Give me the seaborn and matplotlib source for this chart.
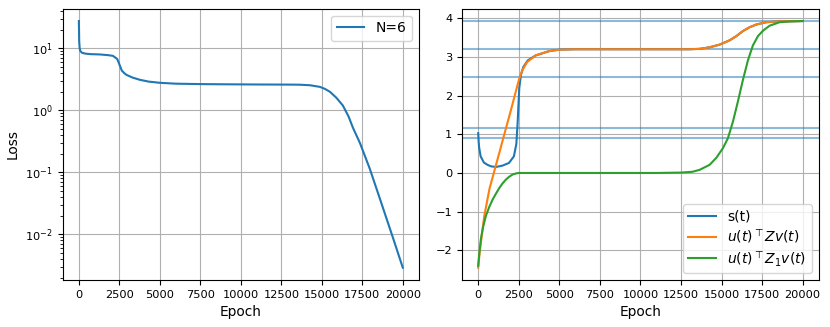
"""Training loss and alignment quantities for the N=6 run."""

import matplotlib

matplotlib.use("Agg")

import matplotlib.pyplot as plt
import seaborn as sns


# ---- loss curve (left panel) ----
LOSS_EPOCH = [
    0, 20, 50, 100, 200, 400, 700, 1300, 1800, 2100, 2360, 2450, 2530, 2650,
    2800, 2940, 3300, 3765, 4300, 5000, 6000, 7470, 9000, 11170, 13000, 13640,
    14260, 14880, 15200, 15500, 15900, 16300, 16650, 16930, 17350, 17960,
    18580, 19400, 20000,
]
LOSS = [
    27.7, 13.0, 10.0, 9.0, 8.5, 8.25, 8.1, 8.0, 7.8, 7.6, 6.8, 6.0, 5.3, 4.4,
    4.0, 3.75, 3.4, 3.12, 2.92, 2.79, 2.7, 2.66, 2.64, 2.62, 2.61, 2.6,
    2.55, 2.4, 2.22, 2.0, 1.6, 1.2, 0.8, 0.52, 0.3, 0.115,
    0.038, 0.0087, 0.0029,
]
LOSS_LABEL = "N=6"

# ---- right panel ----
S_EPOCH = [
    0, 30, 60, 150, 350, 575, 800, 1100, 1500, 1900, 2200, 2350, 2430, 2530,
    2630, 2780, 3050, 3540, 4360, 5000, 6000, 10000, 13000, 13640, 14260,
    14880, 15490, 15910, 16310, 16730, 17140, 17760, 18500, 20000,
]
S_VALUES = [
    1.03, 0.8, 0.65, 0.43, 0.27, 0.21, 0.17, 0.155, 0.19, 0.26, 0.43, 0.75,
    1.3, 2.2, 2.53, 2.74, 2.91, 3.04, 3.15, 3.19, 3.2, 3.2, 3.2, 3.21, 3.25,
    3.32, 3.43, 3.54, 3.67, 3.77, 3.84, 3.90, 3.92, 3.93,
]

ZV_EPOCH = [
    0, 80, 165, 370, 700, 1000, 1300, 1700, 2000, 2300, 2530, 2720, 3020,
    3540, 4360, 5000, 6000, 10000, 13000, 13640, 14260, 14880, 15490, 15910,
    16310, 16730, 17140, 17760, 18500, 20000,
]
ZV_VALUES = [
    -2.45, -2.1, -1.8, -1.12, -0.40, 0.06, 0.52, 1.14, 1.60, 2.08, 2.44, 2.66,
    2.87, 3.04, 3.15, 3.19, 3.2, 3.2, 3.2, 3.21, 3.25, 3.32, 3.43, 3.54,
    3.67, 3.77, 3.84, 3.90, 3.92, 3.93,
]

Z1_EPOCH = [
    0, 50, 165, 300, 475, 680, 885, 1100, 1300, 1500, 1710, 1900, 2120, 2350,
    2530, 3000, 6000, 11000, 12500, 13200, 13640, 14260, 14670, 15080, 15390,
    15700, 16000, 16310, 16620, 16930, 17240, 17550, 17960, 18580, 19200,
    20000,
]
Z1_VALUES = [
    -2.40, -2.15, -1.71, -1.40, -1.11, -0.88, -0.69, -0.53, -0.39, -0.27,
    -0.17, -0.10, -0.04, -0.01, 0.0, 0.0, 0.0, 0.0, 0.01, 0.03, 0.08, 0.21,
    0.39, 0.64, 0.90, 1.33, 1.84, 2.40, 2.91, 3.30, 3.54, 3.68, 3.81, 3.90,
    3.92, 3.93,
]

SINGULAR_VALUES = [3.93, 3.2, 2.485, 1.175, 0.9]
RIGHT_LABELS = ["s(t)", r"$u(t)^\top Zv(t)$", r"$u(t)^\top Z_1v(t)$"]

TICK_SIZE = 8.2
LABEL_SIZE = 9.9
LEGEND_SIZE = 10


def plot_loss(ax):
    sns.lineplot(x=LOSS_EPOCH, y=LOSS, ax=ax, color="C0", linewidth=1.5,
                 estimator=None, label=LOSS_LABEL)
    ax.set_yscale("log")
    ax.set_xlabel("Epoch", fontsize=LABEL_SIZE)
    ax.set_ylabel("Loss", fontsize=LABEL_SIZE)
    ax.grid(True)
    ax.legend(loc="upper right", fontsize=LEGEND_SIZE)


def plot_alignment(ax):
    for value in SINGULAR_VALUES:
        ax.axhline(value, color="C0", alpha=0.5, linewidth=1.5)

    series = [(S_EPOCH, S_VALUES), (ZV_EPOCH, ZV_VALUES), (Z1_EPOCH, Z1_VALUES)]
    for index, ((epochs, values), label) in enumerate(zip(series, RIGHT_LABELS)):
        sns.lineplot(x=epochs, y=values, ax=ax, color=f"C{index}",
                     linewidth=1.5, estimator=None, label=label)

    ax.set_xlabel("Epoch", fontsize=LABEL_SIZE)
    ax.grid(True)
    ax.legend(loc="lower right", fontsize=LEGEND_SIZE, labelspacing=0.25)


def main():
    fig = plt.figure(figsize=(8.3, 3.27), dpi=100)
    ax_loss = fig.add_axes([0.0755, 0.1437, 0.4293, 0.8297])
    ax_align = fig.add_axes([0.5566, 0.1437, 0.4301, 0.8297])

    plot_loss(ax_loss)
    plot_alignment(ax_align)

    for ax in (ax_loss, ax_align):
        ax.tick_params(labelsize=TICK_SIZE)

    fig.savefig("out.png", dpi=100)
    plt.close(fig)


if __name__ == "__main__":
    main()
